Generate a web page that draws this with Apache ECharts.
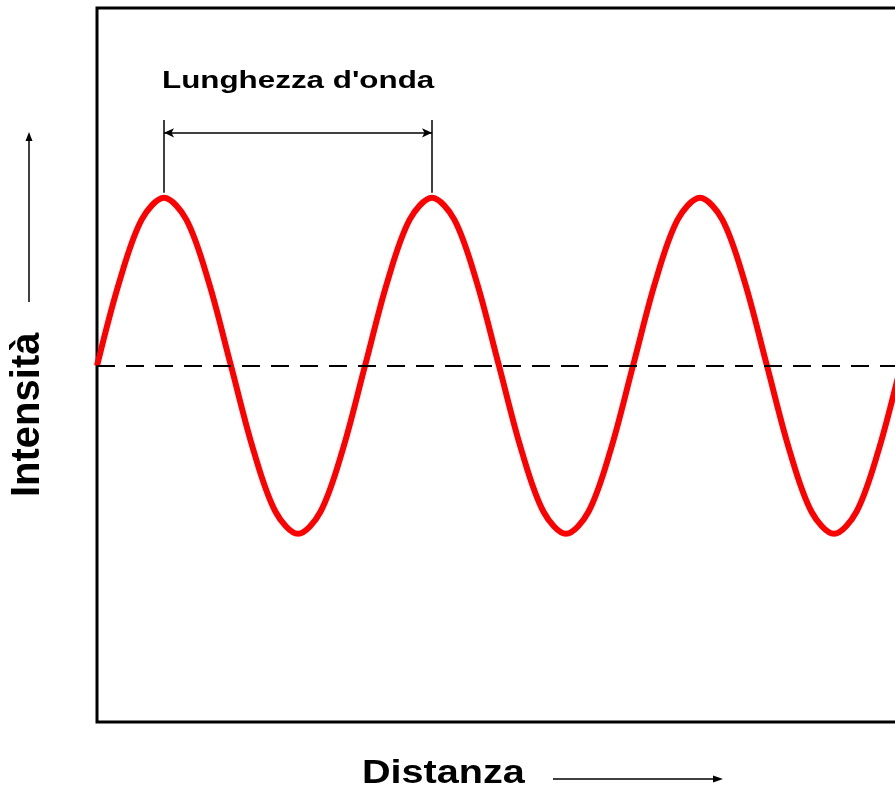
<!DOCTYPE html>
<html>
<head>
<meta charset="utf-8">
<script src="https://cdn.jsdelivr.net/npm/echarts@6/dist/echarts.min.js"></script>
<style>html,body{margin:0;padding:0;background:#fff;}#c{width:895px;height:794px;}</style>
</head>
<body>
<div id="c"></div>
<script>
// Distance in twelfths of a wavelength (one wavelength = 12 units)
var distance = [0,1,2,3,4,5,6,7,8,9,10,11,12,13,14,15,16,17,18,19,20,21,22,23,24,25,26,27,28,29,30,31,32,33,34,35,36,37,38,39];
// Relative intensity at each distance (peak = 1, trough = -1)
var intensity = [0,0.5,0.87,1,0.87,0.5,0,-0.5,-0.87,-1,-0.87,-0.5,0,0.5,0.87,1,0.87,0.5,0,-0.5,-0.87,-1,-0.87,-0.5,0,0.5,0.87,1,0.87,0.5,0,-0.5,-0.87,-1,-0.87,-0.5,0,0.5,0.87,1];
var titleText = "Lunghezza d'onda";
var xName = "Distanza";
var yName = "Intensità";

var chart = echarts.init(document.getElementById('c'), null, {renderer: 'canvas'});
var FONT = '"Liberation Sans", Arial, sans-serif';
var pts = distance.map(function (d, i) { return [d, intensity[i]]; });

chart.setOption({
  animation: false,
  backgroundColor: '#fff',
  grid: {left: 97, top: 8, bottom: 72, width: 938, outerBoundsMode: 'none', containLabel: false, show: true, borderColor: '#000', borderWidth: 3, backgroundColor: 'transparent'},
  xAxis: {type: 'value', min: 0, max: 42, show: false},
  yAxis: {type: 'value', min: -2.12, max: 2.13, show: false},
  series: [{
    type: 'line',
    data: pts,
    smooth: 0.33,
    showSymbol: false,
    clip: true,
    lineStyle: {color: '#ff0000', width: 6},
    markLine: {
      silent: true,
      animation: false,
      label: {show: false},
      symbol: 'none',
      lineStyle: {color: '#000', width: 2, type: [18, 11], dashOffset: 0},
      data: [
        {yAxis: 0}
      ]
    }
  }, {
    type: 'line',
    data: [],
    markLine: {
      silent: true,
      animation: false,
      label: {show: false},
      symbol: 'none',
      lineStyle: {color: '#000', width: 1.5, type: 'solid'},
      data: [
        [{coord: [3, 1.03]}, {coord: [3, 1.464]}],
        [{coord: [15, 1.03]}, {coord: [15, 1.464]}],
        [{coord: [3, 1.387], symbol: 'arrow', symbolSize: [7, 10]}, {coord: [15, 1.387], symbol: 'arrow', symbolSize: [7, 10]}]
      ]
    }
  }],
  graphic: [
    {type: 'text', x: 162, y: 81, scaleX: 1.28, style: {text: titleText, font: 'bold 24.5px ' + FONT, fill: '#000', align: 'left', verticalAlign: 'middle'}},
    {type: 'text', x: 362, y: 773.5, scaleX: 1.2, style: {text: xName, font: 'bold 33px ' + FONT, fill: '#000', align: 'left', verticalAlign: 'middle'}},
    {type: 'text', x: 27.5, y: 497, rotation: Math.PI / 2, style: {text: yName, font: 'bold 40px ' + FONT, fill: '#000', align: 'left', verticalAlign: 'middle'}},
    {type: 'line', shape: {x1: 29, y1: 140, x2: 29, y2: 302}, style: {stroke: '#000', lineWidth: 1.5}},
    {type: 'polygon', shape: {points: [[29, 132], [25.5, 141], [32.5, 141]]}, style: {fill: '#000'}},
    {type: 'line', shape: {x1: 553, y1: 779, x2: 715, y2: 779}, style: {stroke: '#000', lineWidth: 1.5}},
    {type: 'polygon', shape: {points: [[723, 779], [713, 775.5], [713, 782.5]]}, style: {fill: '#000'}}
  ]
});
</script>
</body>
</html>
